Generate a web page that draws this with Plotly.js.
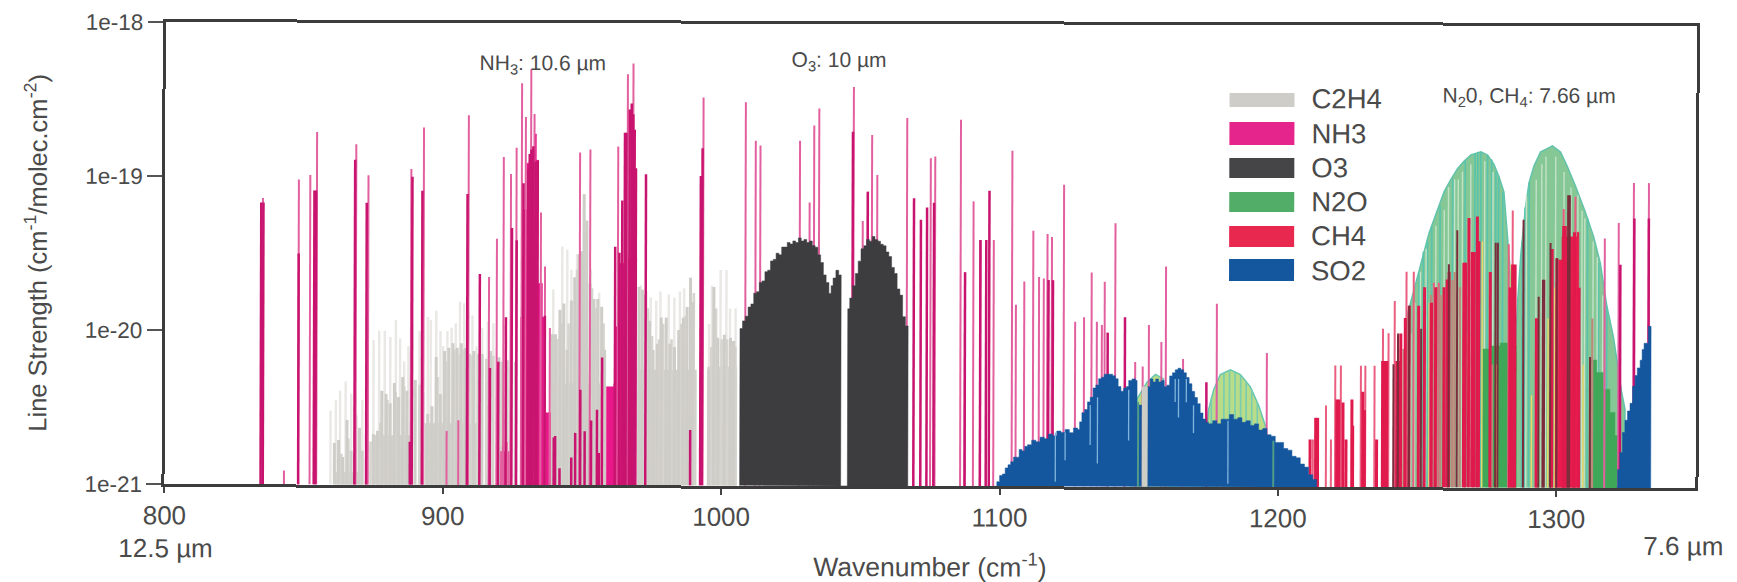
<!DOCTYPE html>
<html><head><meta charset="utf-8">
<script src="https://cdn.plot.ly/plotly-3.0.1.min.js"></script>
<style>html,body{margin:0;padding:0;background:#fff;overflow:hidden}#chart{width:1737px;height:582px;transform:rotate(0.15deg);transform-origin:868px 291px}</style>
</head><body><div id="chart"></div>
<script>
// All strengths are log10(line strength).
const xTickValues=[800,900,1000,1100,1200,1300];
const yTickValues=[1e-21,1e-20,1e-19,1e-18];
const yTickLabels=['1e-21','1e-20','1e-19','1e-18'];
const legendNames=['C2H4','NH3','O3','N2O','CH4','SO2'];
const legendColors=['#cfcdc8','#e5248c','#454547','#52ad68','#e8284f','#14579f'];

const c2h4PaleX=[859.6,861.5,863,865,867,869,871,873,875,877,879,881,883,884.5,886,887.5,889,891.5,892.5,894.5,895.5,897.5,899,900,901.5,903,904.5,906,907.5,909,910.5,912,914,916,918,939.5,942.7,944.5,946,948,950.5,953,956,971,973,974.5,976.5,978,981,983,985,986.5,988.8,990,995.5,996.5,999.6,1001.7,1003,1005];
const c2h4PaleY=[-20.52,-20.45,-20.39,-20.33,-20.41,-20.55,-20.45,-20.3,-20.06,-20,-20,-20.04,-19.93,-20.05,-20.2,-20.1,-19.96,-20,-20,-19.91,-19.93,-19.87,-20,-20.1,-20,-19.98,-19.95,-19.81,-19.82,-19.9,-19.9,-20.1,-19.98,-19.94,-19.95,-19.73,-19.45,-19.47,-19.6,-19.5,-19.11,-19.6,-19.75,-19.7,-19.74,-19.78,-19.8,-19.74,-19.76,-19.78,-19.74,-19.72,-19.65,-19.8,-19.95,-19.7,-19.6,-19.6,-19.85,-19.85];
const c2h4BodyX=[861,862.5,864,865.5,867,870,871,875,876.5,878,879.5,881,882.5,884,885.5,887,890,894.5,896,897.5,899,900.5,902,903.5,905,906.5,908,911,914,917,920,923,926,939.2,940.3,941.9,943.3,944.5,946,947.2,948.7,949.7,950.5,951.5,952.7,954.1,955.5,956.9,958,970.3,971.5,974.1,975.4,976.9,978.3,980.1,981.4,983.1,984.6,986.2,987.6,988.8,989.7,995.4,997.2,998.6,1001,1003.2,1004.4];
const c2h4BodyY=[-20.73,-20.71,-20.82,-20.58,-20.78,-20.63,-20.78,-20.67,-20.65,-20.39,-20.41,-20.47,-20.34,-20.43,-20.3,-20.39,-20.32,-20.54,-20.49,-20.17,-20.41,-20.13,-20.11,-20.08,-20.11,-20.08,-20.11,-20.13,-20.15,-20.13,-20.17,-20.19,-20.2,-20.02,-20.02,-19.86,-19.82,-20.12,-19.8,-19.65,-19.5,-19.48,-19.11,-19.28,-19.69,-19.79,-19.79,-19.84,-20.12,-19.71,-19.73,-19.93,-20.12,-20.08,-19.91,-19.91,-20.08,-20.1,-19.99,-19.91,-19.84,-19.65,-19.81,-20.25,-19.71,-20.04,-20.02,-20.04,-20.06];
const c2h4MidX=[863.5,866,868.5,872.5,874,877.5,880,883,886,888.8,891.5,892.8,898,901,904,906,907.5,909.5,910.5,912.5,913.5,915.5,918,921,941,942.6,945,948,951,953.4,955,957.6,972.5,973.5,975,977.5,979,982,985.5,987,990,996.3,998,1000,1002,1003.6,1005];
const c2h4MidY=[-20.8,-20.7,-20.75,-20.7,-20.72,-20.6,-20.45,-20.4,-20.36,-20.38,-20.35,-20.4,-20.3,-20.2,-20.12,-20.15,-20.12,-20.15,-20.16,-20.15,-20.2,-20.18,-20.16,-20.2,-20.05,-19.95,-19.95,-19.6,-19.35,-19.72,-19.85,-19.95,-19.76,-19.85,-20.03,-20.05,-19.95,-20.05,-19.95,-19.9,-19.75,-20.1,-19.85,-20.05,-20.05,-20.06,-20.1];
const c2h4FloorX=[861,861,870,870,875,875,888,888,893.5,893.5,912,912,939,939,958,958,970,970,991,991,995,995,1005.5,1005.5];
const c2h4FloorY=[-21,-20.92,-20.92,-21,-21,-20.68,-20.68,-21,-21,-20.6,-20.6,-21,-21,-20.34,-20.34,-21,-21,-20.25,-20.25,-21,-21,-20.23,-20.23,-21];
const c2h4GapX=[1151.6,1152.6];
const c2h4GapY=[-20.35,-20.35];

const nh3LightX=[835.1,842.9,848,852.1,854.5,868.6,873,888.4,892.9,901.3,905.5,909,916.4,919.2,920.9,921.5,921.6,922.2,922.9,923.6,924.2,924.4,926.2,928.1,929.5,931.4,932.6,935,936.5,938.3,949,952.7,962.7,966.1,968.1,993.3,1008.5,1012.1,1013.8,1028,1031.5,1033.1,1034.9,1047.3,1050.6,1052.4,1053.9,1055.8,1066.5,1075,1076.6,1085.8,1087.4,1090.4,1092.9,1097.7,1104.3,1105.7,1108.7,1111.9,1114,1115.7,1117,1118.6,1122.9,1127,1130.2,1132.9,1134.8,1136.6,1137.6,1141.4,1148.6,1151.3,1153.5,1158,1159.6,1165.8,1177.9,1195.9,1317.2,1322.2,1327.6,1333];
const nh3LightY=[-19.14,-20.91,-19.02,-18.99,-18.71,-18.79,-18.99,-18.95,-18.68,-20.65,-20.58,-18.6,-19.65,-19.4,-20.78,-20.75,-18.87,-20.78,-20.72,-20.78,-18.98,-20.8,-18.81,-18.39,-18.61,-18.3,-18.59,-19.23,-19.58,-19.98,-18.84,-18.82,-18.8,-18.33,-18.26,-18.48,-18.51,-18.76,-18.79,-18.76,-19.16,-18.66,-18.55,-18.41,-19.28,-19.09,-18.72,-18.98,-18.61,-18.87,-18.86,-18.62,-19.61,-19.15,-19.4,-19.4,-18.82,-19.82,-19.67,-19.34,-19.64,-19.65,-19.36,-19.38,-19.04,-19.93,-19.9,-19.61,-19.93,-19.95,-19.67,-19.29,-20.19,-20.22,-19.95,-20.06,-19.57,-20.17,-19.81,-20.13,-19.38,-19.28,-19.02,-19.02];
const nh3DarkX=[834.5,835.3,848,853.6,854.2,868.2,872.4,888.1,888.8,892.4,908.6,913.1,916.8,919.8,922.5,924.6,926.3,928.7,930.4,930.9,931.5,932.2,933,933.8,936.5,939.8,940.3,941.9,946.1,947.5,949.3,950.9,953.2,955.3,956,957.1,961.7,963.2,964.2,965.1,965.6,966.8,967.5,968.1,968.6,969.1,972.7,988.8,992.4,993,1047,1052.4,1069,1071.5,1073.7,1076.2,1087.4,1092.9,1095,1096.1,1117.4,1119,1138.7,1144.9,1174.2,1322.8,1327.8,1333];
const nh3DarkY=[-19.17,-19.17,-19.5,-19.09,-19.09,-18.89,-19.17,-20.72,-19,-19.09,-19.11,-19.63,-20.24,-20.2,-19.91,-19.33,-19.41,-19.04,-18.95,-18.85,-18.82,-18.8,-18.9,-18.89,-19.9,-20.69,-20.68,-20.89,-20.82,-20.66,-20.38,-20.65,-20.58,-20.51,-20.79,-20.17,-19.45,-19.49,-19.15,-18.71,-18.71,-18.56,-18.52,-18.59,-18.69,-18.94,-18.98,-20.64,-18.99,-18.81,-18.7,-19.09,-19.13,-19.27,-19.19,-19.16,-19.61,-19.4,-19.4,-19.08,-19.66,-19.66,-20,-19.9,-20.32,-19.55,-19.25,-19.25];
const nh3BandAX=[927.8,927.8,928.7,929.9,931.1,932,932.6,933.3,934,935.6,936.4,938.6,938.6];
const nh3BandAY=[-21,-19.91,-19.21,-18.91,-18.91,-18.82,-18.72,-18.89,-19.69,-19.91,-20.53,-20.99,-21];
const nh3BandBX=[958.7,958.7,961.3,961.9,963.1,966.1,969.1,969.4];
const nh3BandBY=[-21,-20.36,-20.34,-19.97,-19.56,-19.53,-19.53,-21];

const o3X=[1006.5,1006.6,1007.5,1008.5,1009.5,1010.5,1011.5,1012.5,1013.5,1014.5,1015.5,1016.5,1017.5,1018.5,1019.5,1020.5,1021.5,1022.5,1023.5,1024.5,1025.5,1026.5,1027.5,1028.5,1029.5,1030.5,1031.5,1032.5,1033.5,1034.5,1035.5,1036.5,1037.5,1038.5,1039.3,1040,1041,1042,1042.9,1045.2,1045.3,1046,1047,1048,1049,1050,1051,1052,1053,1054,1055,1056,1057,1058,1059,1060,1061,1062,1063,1064,1065,1066,1067,1067];
const o3Y=[-21,-19.98,-19.93,-19.9,-19.84,-19.82,-19.75,-19.74,-19.68,-19.67,-19.61,-19.6,-19.54,-19.53,-19.49,-19.5,-19.45,-19.45,-19.42,-19.43,-19.41,-19.42,-19.39,-19.41,-19.4,-19.42,-19.41,-19.44,-19.45,-19.5,-19.55,-19.63,-19.68,-19.75,-19.7,-19.65,-19.6,-19.63,-21,-21,-19.85,-19.78,-19.7,-19.62,-19.54,-19.46,-19.44,-19.4,-19.41,-19.38,-19.4,-19.41,-19.43,-19.44,-19.48,-19.51,-19.58,-19.62,-19.72,-19.76,-19.9,-19.96,-19.97,-21];

const n2oUpperX=[1246,1246,1250.4,1252.2,1254,1255.8,1257.6,1259.4,1261.8,1264.2,1266.6,1269,1272.6,1275,1277.3,1279.1,1280.9,1282,1283,1284.1,1285,1285.9,1287.1,1288.7,1289.9,1291.7,1294,1298.3,1301.2,1303.6,1306.6,1310.2,1313.2,1315.6,1318,1320.4,1321.6,1323.4,1324.6,1324.6];
const n2oUpperY=[-21,-19.9,-19.6,-19.47,-19.35,-19.26,-19.17,-19.08,-19,-18.93,-18.88,-18.84,-18.82,-18.84,-18.9,-18.98,-19.08,-19.3,-19.54,-19.8,-20.19,-19.8,-19.47,-19.18,-19.02,-18.91,-18.82,-18.78,-18.82,-18.91,-19.04,-19.21,-19.37,-19.54,-19.82,-20.02,-20.17,-20.38,-20.49,-21];
const n2oSmallX=[1147,1149.3,1152.9,1155.9,1158.8,1161,1173,1175,1176.8,1179.2,1182.8,1186.4,1190,1193,1195.4,1197,1197];
const n2oSmallY=[-21,-20.43,-20.32,-20.27,-20.3,-21,-21,-20.5,-20.37,-20.27,-20.24,-20.27,-20.35,-20.47,-20.6,-20.9,-21];
const n2oSmallTealX=[1176,1178,1180.5,1182.5,1184.5,1186.5,1188.5,1190.5,1192.5];
const n2oSmallTealY=[-20.42,-20.32,-20.26,-20.24,-20.25,-20.27,-20.31,-20.37,-20.45];
const n2oGreenX=[1149.7,1198.3];
const n2oGreenY=[-20.45,-20.7];
const n2oLowAX=[1272.6,1273.2,1276,1279.7,1282.7,1285.5,1285.6];
const n2oLowAY=[-21,-20.1,-20.08,-20.06,-20.08,-20.12,-21];
const n2oLowBX=[1311,1312,1314.4,1316.8,1319.2,1321,1322.2,1322.8];
const n2oLowBY=[-21,-20.17,-20.25,-20.36,-20.51,-20.66,-20.84,-21];
const n2oTealX=[1250.5,1252,1253.5,1255,1258,1262.5,1267,1270.5,1271.5,1272.6,1275,1276.5,1278,1279,1280.5,1287.5,1288.5,1290,1311,1315,1318];
const n2oTealY=[-19.6,-19.47,-19.4,-19.3,-19.17,-19,-18.88,-18.83,-18.82,-18.82,-18.84,-18.87,-18.95,-18.98,-19.08,-19.4,-19.18,-19.02,-19.25,-19.54,-19.82];
const n2oPaleX=[1247.6,1249,1251,1253,1256.5,1259.5,1261,1263.2,1264.5,1266,1269,1274,1277,1284.4,1289,1292.5,1294.5,1296,1299.5,1302.5,1305,1307.5,1309,1310,1313,1314.5,1316.5];
const n2oPaleY=[-20,-19.8,-19.6,-19.45,-19.3,-19.2,-19.05,-19,-19,-18.95,-18.9,-18.88,-18.95,-20.1,-19.1,-19,-18.9,-18.85,-18.85,-18.95,-19.05,-19.1,-19.2,-19.25,-19.4,-19.5,-19.75];
const n2oYellowX=[1254.2,1268.2,1273.2,1278.5,1283.6,1291,1293.5,1296.9,1299.3,1309.5];
const n2oYellowY=[-19.8,-20,-19.4,-20.2,-19.55,-20.4,-20.1,-19.9,-19.7,-20.2];

const ch4LightX=[1212.5,1213.9,1217.2,1219,1220.5,1222.5,1229.7,1231.3,1234.6,1237.6,1239.6,1241.8,1246,1248.6,1254.6,1255.8,1257.6,1282.7,1284.1,1302.4,1306.6];
const ch4LightY=[-20.69,-20.55,-20.47,-20.69,-20.21,-20.21,-20.21,-20.21,-20.21,-19.97,-20,-19.79,-19.6,-19.6,-19.8,-19.67,-19.67,-19.42,-19.2,-19.19,-19.11];
const ch4MauveX=[1245,1254.8,1256,1257.2,1258.3,1262.5,1263.3,1265.2,1276.8,1312.8];
const ch4MauveY=[-20.1,-19.75,-19.7,-19.7,-19.75,-19.65,-19.6,-19.7,-20.2,-19.9];
const ch4DarkX=[1211.5,1213.5,1214.2,1221.1,1221.8,1223.3,1224.4,1226.5,1226.8,1230.4,1231,1235.4,1237.5,1238.2,1239,1242.6,1243.3,1244,1245.6,1247,1250.4,1252.5,1255,1256.5,1259.5,1260.6,1261.3,1266.6,1267.2,1268.4,1269.6,1270.3,1271.4,1272,1276.1,1283.2,1284.1,1285,1292.7,1298.3,1300,1302.4,1303,1306.3,1308];
const ch4DarkY=[-20.69,-20.55,-20.55,-20.43,-20.43,-20.45,-20.69,-20.43,-20.6,-20.38,-20.5,-20.69,-20.18,-20.18,-20.18,-20.18,-20.18,-20,-19.9,-19.82,-19.82,-19.7,-19.8,-19.7,-19.7,-19.65,-19.6,-19.54,-19.54,-19.25,-19.47,-19.47,-19.24,-19.4,-19.6,-19.7,-19.55,-19.55,-19.9,-19.45,-19.51,-19.3,-19.3,-19.34,-19.7];
const ch4BrownX=[1241.4,1243,1247,1251.3,1261.2,1264.2,1278,1278.8,1288,1293.5,1295,1295.5,1297.7,1300,1304,1304.6,1312];
const ch4BrownY=[-20.2,-20,-19.82,-19.97,-19.55,-19.33,-19.41,-19.41,-19.26,-19.76,-19.65,-19.65,-19.41,-19.51,-19.1,-19.1,-20.15];
const ch4BlockX=[1300.6,1300.6,1301.8,1307.2,1307.9,1307.9];
const ch4BlockY=[-21,-19.52,-19.37,-19.34,-19.5,-21];

const so2LeftX=[1098,1099,1100,1101,1102,1103,1104,1105,1106,1107,1108,1109,1110,1111.5,1113,1114.5,1116,1117.5,1119,1120.5,1122,1123.5,1125,1126.5,1128,1128.7,1129.5,1130.5,1131.5,1132.5,1133.5,1134.5,1135.5,1136.5,1137.5,1139,1140.5,1141.5,1142.5,1143.5,1144.5,1145.5,1146.3,1147.5,1148.7,1149.3,1151,1151,1153,1153,1154,1155,1156,1157,1158,1159,1160,1161,1162,1163,1164,1165,1166,1167,1168,1169,1170,1171,1172,1173,1174,1175,1176.5,1178,1179.5,1181,1182.5,1184,1185.5,1187,1188.5,1190,1191.5,1193,1194.5,1196,1197.5,1199,1200.5,1202,1203.5,1205,1206.5,1208,1209.5,1211,1212.5,1213.9];
const so2LeftY=[-21,-20.97,-20.93,-20.92,-20.88,-20.86,-20.84,-20.81,-20.81,-20.76,-20.77,-20.74,-20.73,-20.7,-20.71,-20.68,-20.69,-20.66,-20.67,-20.64,-20.65,-20.63,-20.65,-20.62,-20.63,-20.58,-20.52,-20.5,-20.45,-20.42,-20.36,-20.34,-20.3,-20.29,-20.27,-20.27,-20.28,-20.3,-20.35,-20.38,-20.36,-20.35,-20.31,-20.3,-20.31,-20.47,-20.47,-21,-21,-20.35,-20.3,-20.32,-20.3,-20.32,-20.31,-20.35,-20.34,-20.28,-20.26,-20.24,-20.23,-20.24,-20.26,-20.29,-20.33,-20.38,-20.42,-20.46,-20.52,-20.56,-20.58,-20.59,-20.57,-20.59,-20.56,-20.56,-20.53,-20.56,-20.55,-20.58,-20.57,-20.6,-20.59,-20.63,-20.62,-20.66,-20.67,-20.71,-20.71,-20.75,-20.76,-20.8,-20.81,-20.85,-20.87,-20.92,-20.95,-21];
const so2RightX=[1321.4,1322,1322.8,1323.7,1324.6,1325.5,1326.4,1327.3,1328.2,1329,1330,1330.7,1331.4,1332.9,1333.9,1333.9];
const so2RightY=[-21,-20.88,-20.77,-20.64,-20.56,-20.5,-20.45,-20.34,-20.27,-20.22,-20.17,-20.1,-20.06,-19.95,-19.95,-21];
const so2StripeX=[1120,1123.5,1132.5,1135.1,1146.3,1163,1164.2,1167,1169.6,1182];
const so2StripeTop=[-20.65,-20.65,-20.47,-20.42,-20.37,-20.3,-20.3,-20.3,-20.47,-20.57];
const so2StripeLow=[-20.97,-20.83,-20.73,-20.85,-20.7,-20.45,-20.55,-20.45,-20.65,-20.98];

const P=v=>Math.pow(10,v);
const BASE=1e-21;
function sticks(name,xs,ys,color,width,lows){
  const x=[],y=[];
  xs.forEach((v,i)=>{x.push(v,v,null);y.push(lows?P(lows[i]):BASE,P(ys[i]),null);});
  return {type:'scatter',mode:'lines',name,x,y,hoverinfo:'skip',showlegend:false,line:{color,width}};
}
function area(name,xs,ys,color,lineColor,shape){
  return {type:'scatter',mode:'lines',name,x:xs,y:ys.map(P),fill:'toself',fillcolor:color,hoverinfo:'skip',showlegend:false,
    line:{color:lineColor||color,width:lineColor?1.5:0.5,shape:shape||'linear'}};
}
const data=[
  sticks('C2H4 weak',c2h4PaleX,c2h4PaleY,'#e9e8e5',2.4),
  area('C2H4 floor',c2h4FloorX,c2h4FloorY,'#d2d0cb'),
  sticks('C2H4 mid',c2h4MidX,c2h4MidY,'#d6d4cf',2.6),
  sticks('C2H4',c2h4BodyX,c2h4BodyY,'#cfcdc8',3),
  area('N2O',n2oUpperX,n2oUpperY,'#85c795','#62c3ac'),
  area('N2O small',n2oSmallX,n2oSmallY,'#b8dc88','#66c6b2'),
  sticks('N2O small teal',n2oSmallTealX,n2oSmallTealY,'#78cdb2',1.6),
  sticks('N2O teal',n2oTealX,n2oTealY,'#58c4ae',1.6),
  sticks('N2O pale',n2oPaleX,n2oPaleY,'#c3e2c8',1.4),
  area('N2O lower A',n2oLowAX,n2oLowAY,'#3fa858',null,'hv'),
  area('N2O lower B',n2oLowBX,n2oLowBY,'#3fa858',null,'hv'),
  sticks('N2O yellow',n2oYellowX,n2oYellowY,'#ecd868',1.4),
  area('NH3 band A',nh3BandAX,nh3BandAY,'#e8188a',null,'hv'),
  area('NH3 band B',nh3BandBX,nh3BandBY,'#e8188a',null,'hv'),
  sticks('NH3 light',nh3LightX,nh3LightY,'#e2609f',2),
  sticks('NH3',nh3DarkX,nh3DarkY,'#c8146f',2.5),
  area('O3',o3X,o3Y,'#3d3d40',null,'hv'),
  sticks('CH4 light',ch4LightX,ch4LightY,'#ea5f80',2),
  sticks('CH4 mauve',ch4MauveX,ch4MauveY,'#bb8a7c',2.2),
  area('CH4 block',ch4BlockX,ch4BlockY,'#ea1c4e',null,'hv'),
  sticks('CH4',ch4DarkX,ch4DarkY,'#e01a4c',3),
  sticks('CH4 brown',ch4BrownX,ch4BrownY,'#7c2d3c',2),
  area('SO2',so2LeftX,so2LeftY,'#14579f',null,'hv'),
  area('SO2 right',so2RightX,so2RightY,'#14579f',null,'hv'),
  sticks('SO2 gaps',so2StripeX,so2StripeTop,'#7fb4dc',1.3,so2StripeLow),
  sticks('C2H4 gap',c2h4GapX,c2h4GapY,'#cfcdc8',3),
  sticks('N2O gap',n2oGreenX,n2oGreenY,'#4f9a88',2)
];
const L=165,R=1696,T=24,B=486,W=1737,H=582;
const swatchTop=[92,121,157,191,225,258], swatchBot=[106,144,177,211,246,280], labelY=[97,132,166,200,234,269];
const shapes=legendNames.map((n,i)=>({type:'rect',xref:'paper',yref:'paper',
  x0:(1229-L)/(R-L),x1:(1294-L)/(R-L),y0:(B-swatchBot[i])/(B-T),y1:(B-swatchTop[i])/(B-T),
  fillcolor:legendColors[i],line:{width:0},layer:'above'}));
const TXT='#4a4a4a',FONT='"Liberation Sans",Arial,sans-serif';
function note(text,x,y,size,anchor){
  return {text,xref:'paper',yref:'paper',x:(x-L)/(R-L),y:(B-y)/(B-T),xanchor:anchor||'center',yanchor:'middle',showarrow:false,
    font:{family:FONT,size,color:TXT}};
}
const annotations=legendNames.map((n,i)=>note(n,1309,labelY[i],27.5,'left')).concat([
  note('NH<sub>3</sub>: 10.6 µm',542,65,21),
  note('O<sub>3</sub>: 10 µm',838,61,21),
  note('N<sub>2</sub>0, CH<sub>4</sub>: 7.66 µm',1528,95,21),
  note('12.5 µm',166,550,26),
  note('7.6 µm',1684,544,26),
  note('Wavenumber (cm<sup>-1</sup>)',930,565,26.5)
]);
Plotly.newPlot('chart',data,{
  width:W,height:H,showlegend:false,paper_bgcolor:'#fff',plot_bgcolor:'#fff',
  margin:{l:L,r:W-R,t:T,b:H-B,pad:0},
  font:{family:FONT,color:TXT},
  xaxis:{range:[800,1350],tickvals:xTickValues,ticktext:xTickValues.map(String),ticks:'outside',ticklen:6,tickwidth:2,tickcolor:'#444',
    showline:true,linecolor:'#3c3c3c',linewidth:3,mirror:true,showgrid:false,zeroline:false,tickfont:{size:26,color:TXT}},
  yaxis:{type:'log',range:[-21,-18],tickvals:yTickValues,ticktext:yTickLabels,ticks:'outside',ticklen:15,tickwidth:2,tickcolor:'#555',
    showline:true,linecolor:'#3c3c3c',linewidth:3,mirror:true,showgrid:false,zeroline:false,tickfont:{size:22.5,color:TXT},
    title:{text:'Line Strength (cm<sup>-1</sup>/molec.cm<sup>-2</sup>)',font:{size:25.5,color:TXT},standoff:31}},
  shapes,annotations
},{displayModeBar:false,staticPlot:true});
</script></body></html>
